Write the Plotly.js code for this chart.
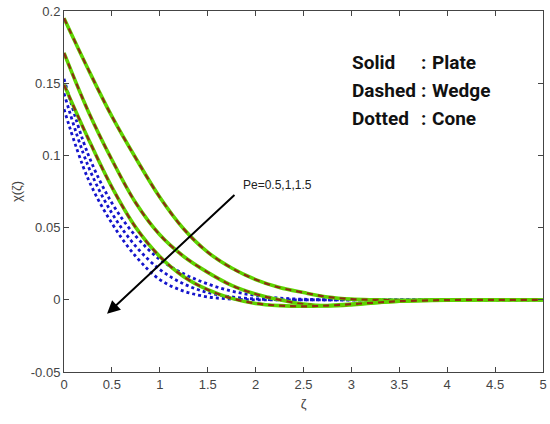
<!DOCTYPE html>
<html>
<head>
<meta charset="utf-8">
<script src="https://cdn.plot.ly/plotly-3.0.1.min.js"></script>
<style>
  body { margin: 0; background: #fff; }
  #myChart { width: 550px; height: 424px; }
</style>
</head>
<body>
<div id="myChart"></div>
<script>
// zeta grid used for every curve
var zeta = [0, 0.25, 0.5, 0.75, 1, 1.25, 1.5, 1.75, 2, 2.25, 2.5, 2.75, 3, 3.25, 3.5, 4, 4.5, 5];

// plate and wedge lie on top of each other (Pe = 0.5, 1, 1.5)
var plate_pe05 = [0.195, 0.160, 0.127, 0.098, 0.071, 0.049, 0.033, 0.022, 0.014, 0.0085, 0.005, 0.002, 0.0005, 0, -0.0003, 0, 0, 0];
var plate_pe1  = [0.171, 0.131, 0.097, 0.067, 0.045, 0.030, 0.019, 0.010, 0.004, 0, -0.003, -0.0042, -0.0035, -0.002, -0.001, 0, 0, 0];
var plate_pe15 = [0.149, 0.112, 0.078, 0.050, 0.030, 0.016, 0.007, 0.001, -0.0025, -0.004, -0.0045, -0.004, -0.003, -0.002, -0.001, -0.0002, 0, 0];
var wedge_pe05 = plate_pe05.slice();
var wedge_pe1  = plate_pe1.slice();
var wedge_pe15 = plate_pe15.slice();

// cone
var cone_pe05 = [0.153, 0.101, 0.067, 0.044, 0.028, 0.018, 0.011, 0.006, 0.003, 0.0012, 0.0004, 0, 0, 0, 0, 0, 0, 0];
var cone_pe1  = [0.143, 0.093, 0.060, 0.037, 0.021, 0.011, 0.005, 0.002, 0.0006, 0, 0, 0, 0, 0, 0, 0, 0, 0];
var cone_pe15 = [0.132, 0.084, 0.053, 0.030, 0.014, 0.006, 0.002, 0.0005, 0, 0, 0, 0, 0, 0, 0, 0, 0, 0];

var x_ticks = [0, 0.5, 1, 1.5, 2, 2.5, 3, 3.5, 4, 4.5, 5];
var y_ticks = [-0.05, 0, 0.05, 0.1, 0.15, 0.2];

var key_left = ['Solid', 'Dashed', 'Dotted'];
var key_right = ['Plate', 'Wedge', 'Cone'];
var key_y = [0.1646, 0.1451, 0.1257];

function make_line(y, color, width, dash) {
    return {
        x: zeta,
        y: y,
        mode: 'lines',
        type: 'scatter',
        line: {color: color, width: width, dash: dash, shape: 'spline', smoothing: 1},
        hoverinfo: 'skip',
        showlegend: false
    };
}

var data = [];
var plates = [plate_pe05, plate_pe1, plate_pe15];
var wedges = [wedge_pe05, wedge_pe1, wedge_pe15];
var cones = [cone_pe05, cone_pe1, cone_pe15];

for (var i = 0; i < cones.length; i++) {
    data.push(make_line(cones[i], '#1414cc', 2.8, '3px,3px'));
}
for (var i = 0; i < plates.length; i++) {
    data.push(make_line(plates[i], '#5ed400', 3.6, 'solid'));
    data.push(make_line(wedges[i], '#8e2c12', 2.2, '6px,5px'));
}

var axis_font = {family: 'Liberation Sans, Arial, sans-serif', size: 13, color: '#444'};
var key_font = {family: 'Roboto, sans-serif', size: 19, color: '#111', weight: 'bold'};

var annotations = [
    {x: 0.449, y: -0.0097, ax: 1.795, ay: 0.0736, axref: 'x', ayref: 'y',
     showarrow: true, arrowhead: 2, arrowsize: 1.3, arrowwidth: 2, arrowcolor: '#000', text: ''},
    {x: 1.85, y: 0.0795, xanchor: 'left', yanchor: 'middle', showarrow: false,
     text: 'Pe=0.5,1,1.5', font: {family: 'Liberation Sans, Arial, sans-serif', size: 12, color: '#222'}}
];
for (var i = 0; i < key_left.length; i++) {
    annotations.push({x: 2.985, y: key_y[i], xanchor: 'left', yanchor: 'middle', showarrow: false,
                      text: key_left[i], font: key_font});
    annotations.push({x: 3.706, y: key_y[i], xanchor: 'left', yanchor: 'middle', showarrow: false,
                      text: ':', font: key_font});
    annotations.push({x: 3.82, y: key_y[i], xanchor: 'left', yanchor: 'middle', showarrow: false,
                      text: key_right[i], font: key_font});
}

var layout = {
    width: 550,
    height: 424,
    margin: {l: 64, r: 7, t: 11, b: 52},
    paper_bgcolor: '#fff',
    plot_bgcolor: '#fff',
    xaxis: {
        range: [0, 5],
        tickvals: x_ticks,
        ticktext: x_ticks.map(String),
        ticks: 'inside',
        ticklen: 5,
        tickcolor: '#444',
        showline: true,
        linecolor: '#444',
        mirror: 'ticks',
        showgrid: false,
        zeroline: false,
        tickfont: axis_font,
        title: {text: 'ζ', font: axis_font, standoff: 8}
    },
    yaxis: {
        range: [-0.05, 0.2],
        tickvals: y_ticks,
        ticktext: ['-0.05', '0', '0.05', '0.1', '0.15', '0.2'],
        ticks: 'inside',
        ticklen: 5,
        tickcolor: '#444',
        showline: true,
        linecolor: '#444',
        mirror: 'ticks',
        showgrid: false,
        zeroline: false,
        tickfont: axis_font,
        title: {text: 'χ(ζ)', font: axis_font, standoff: 6}
    },
    annotations: annotations
};

Plotly.newPlot('myChart', data, layout, {staticPlot: true});
</script>
</body>
</html>
